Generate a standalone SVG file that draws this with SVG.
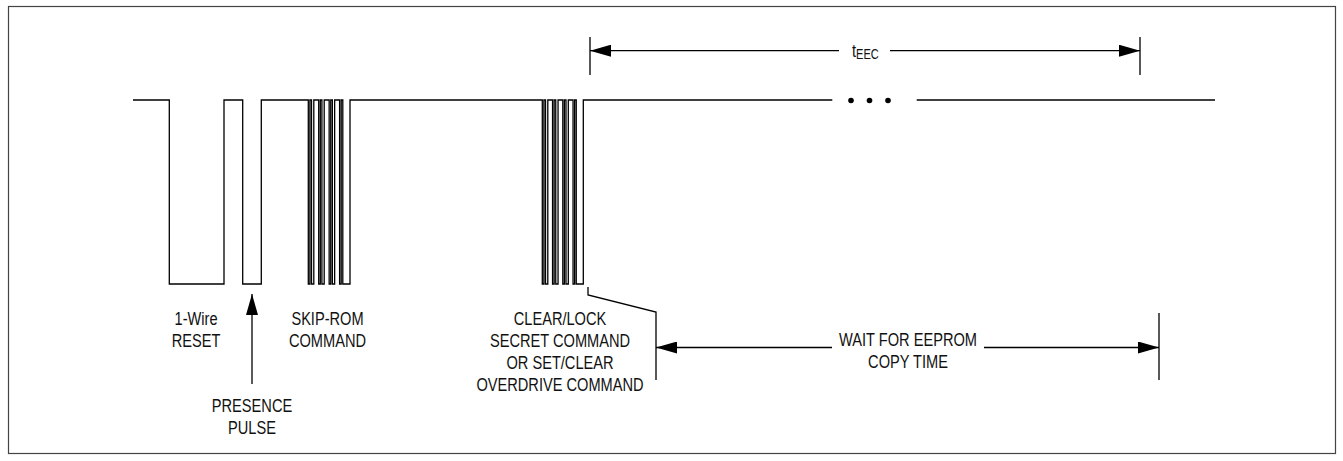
<svg xmlns="http://www.w3.org/2000/svg" width="1343" height="461" viewBox="0 0 1343 461">
<style>
.ln{fill:none;stroke:#000;stroke-width:1.3}
.lbl{font-family:"Liberation Sans",Arial,sans-serif;font-size:18.5px;fill:#111;text-anchor:middle}
.sub{font-size:14px}
</style>
<defs>
<marker id="ah" viewBox="0 0 21 12" refX="21" refY="6" markerWidth="21" markerHeight="12" markerUnits="userSpaceOnUse" orient="auto">
<path d="M0,0 L21,6 L0,12 z" fill="#000"/>
</marker>
</defs>
<rect x="8.5" y="6.5" width="1327" height="447" fill="#fff" stroke="#444" stroke-width="1.2"/>
<g id="waveform">
<path class="ln" d="M133,100 H169.3 V284 H224 V100 H242.7 V284 H261.3 V100 H308.3 V284 H309.9 V100 H311.5 V284 H313.8 V100 H318.7 V284 H320.3 V100 H321.9 V284 H324.2 V100 H329.15 V284 H330.75 V100 H332.35 V284 H334.65 V100 H339.6 V284 H341.2 V100 H342.8 V284 H350 V100 H542.3 V284 H543.9 V100 H545.5 V284 H547.8 V100 H552.55 V284 H554.15 V100 H555.75 V284 H558.05 V100 H562.8 V284 H564.4 V100 H566 V284 H568.3 V100 H573.05 V284 H574.65 V100 H576.25 V284 H583.3 V100 H832.3"/>
<path class="ln" d="M916.7,100 H1215"/>
<circle cx="851" cy="100.5" r="2.8"/>
<circle cx="869.5" cy="100.5" r="2.8"/>
<circle cx="888" cy="100.5" r="2.8"/>
</g>
<g id="connectors">
<path class="ln" d="M590,37 V75 M1140,37 V75 M1159,313 V380"/>
<path class="ln" d="M839,50.7 H590" marker-end="url(#ah)"/>
<path class="ln" d="M890,50.7 H1140" marker-end="url(#ah)"/>
<path class="ln" d="M588,287 V295 L656,312 V380"/>
<path class="ln" d="M832,347.5 H656" marker-end="url(#ah)"/>
<path class="ln" d="M984,347.5 H1159" marker-end="url(#ah)"/>
<path class="ln" d="M252,384 V294" marker-end="url(#ah)"/>
</g>
<g id="label-teec">
<text class="lbl" style="text-anchor:start" transform="translate(852,57) scale(0.79,1)">t<tspan class="sub" dy="2">EEC</tspan></text>
</g>
<g id="label-reset">
<text class="lbl" transform="translate(196,325) scale(0.79,1)">1-Wire</text>
<text class="lbl" transform="translate(196,347) scale(0.79,1)">RESET</text>
</g>
<g id="label-presence">
<text class="lbl" transform="translate(252,411.7) scale(0.79,1)">PRESENCE</text>
<text class="lbl" transform="translate(252,434) scale(0.79,1)">PULSE</text>
</g>
<g id="label-skiprom">
<text class="lbl" transform="translate(327.5,325) scale(0.79,1)">SKIP-ROM</text>
<text class="lbl" transform="translate(327.5,347) scale(0.79,1)">COMMAND</text>
</g>
<g id="label-clearlock">
<text class="lbl" transform="translate(560,325) scale(0.79,1)">CLEAR/LOCK</text>
<text class="lbl" transform="translate(560,347) scale(0.79,1)">SECRET COMMAND</text>
<text class="lbl" transform="translate(560,369) scale(0.79,1)">OR SET/CLEAR</text>
<text class="lbl" transform="translate(560,390.5) scale(0.79,1)">OVERDRIVE COMMAND</text>
</g>
<g id="label-wait">
<text class="lbl" transform="translate(908,346) scale(0.79,1)">WAIT FOR EEPROM</text>
<text class="lbl" transform="translate(908,368) scale(0.79,1)">COPY TIME</text>
</g>
</svg>
